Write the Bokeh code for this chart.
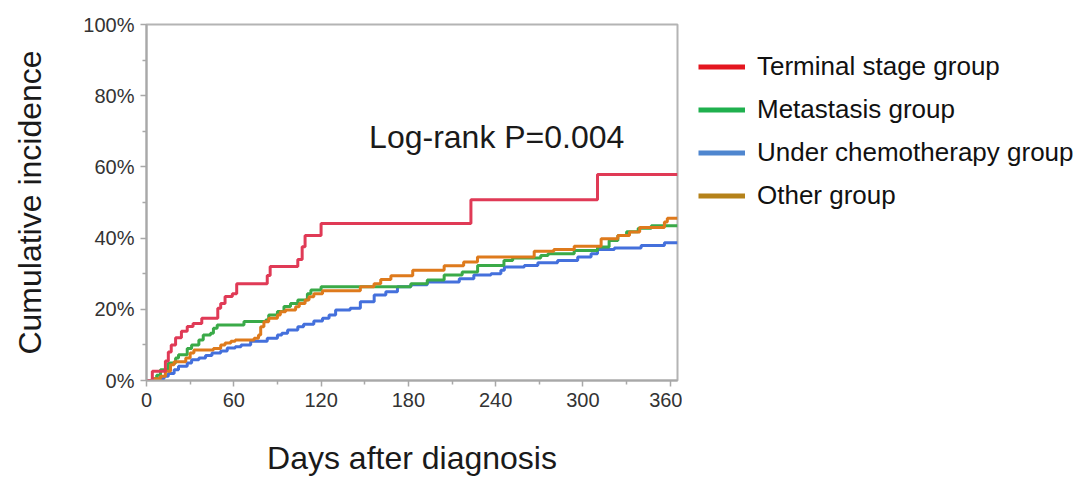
from bokeh.plotting import figure
from bokeh.layouts import row
from bokeh.models import Range1d, Label, Legend, LegendItem, PrintfTickFormatter, FixedTicker
from bokeh.embed import file_html
from bokeh.resources import INLINE

# ---- data ----
red_days = [0, 4, 13, 15, 17, 20, 24, 28, 32, 38, 49, 51, 54, 59, 62, 83, 85, 104, 107, 109, 120, 223, 310, 365]
red_pct = [0, 2.6, 5.5, 8, 10, 12, 13.8, 15.2, 16, 17.5, 20.3, 21.6, 23.6, 24.4, 27.2, 29.5, 32, 34, 37.6, 40.7, 44.1, 50.8, 57.9, 57.9]

green_days = [0, 4, 7, 9.6, 15, 20, 22, 28, 31, 36, 39, 44, 46, 48.6, 67, 82, 84, 90, 94.5, 99, 104, 110.6, 113, 120,
              181.7, 193, 204.6, 217, 227.6, 245.7, 251.7, 271, 276, 294, 310, 318, 324, 330, 338, 347, 365]
green_pct = [0, 0.5, 1.5, 3, 4.9, 6.3, 7.2, 9, 10, 11.4, 12.8, 13.3, 14.7, 15.6, 16.6, 17, 18.4, 19.4, 20.8, 21.6, 22.6, 24.4, 25.4, 26.3,
             27.2, 28.2, 29.6, 30.5, 32.3, 33.7, 34.4, 35.1, 35.6, 36.5, 37.5, 39.3, 40.7, 41.8, 42.8, 43.5, 43.5]

blue_days = [0, 6, 12, 15, 19, 22, 28, 31, 36, 40.6, 45, 51, 55.5, 61, 65, 71.6, 83, 90, 93, 97, 104, 108, 115, 121, 125.5, 130, 140,
             147, 156.5, 164.5, 172.5, 181.7, 193, 215, 225, 236.8, 243.6, 246, 259.7, 269, 282.6, 296.4, 305.6, 310, 321.6, 340, 356, 365]
blue_pct = [0, 0.5, 1.2, 2, 3, 4, 4.9, 5.8, 6.3, 7, 7.7, 8.3, 9.1, 9.5, 10, 11, 11.9, 12.8, 13.3, 14.2, 15.1, 15.8, 16.7, 17.5, 18.4, 19.8, 20.3,
            22.1, 24, 24.9, 26.3, 26.9, 27.7, 28.6, 29.6, 30, 31, 31.9, 32.3, 33.1, 33.7, 34.7, 35.6, 36.8, 37.2, 37.9, 38.7, 38.7]

orange_days = [0, 4, 9.6, 13, 16.5, 19, 27, 30, 32.6, 46, 51, 54, 58, 61, 74, 77, 78.5, 80.7, 84, 90, 92, 95.6, 102.5, 105, 109, 111.7, 115, 121,
               147, 156.4, 161, 168, 183, 204.6, 218, 227.5, 266.5, 280, 294, 312.5, 324, 332, 339, 356, 358, 365]
orange_pct = [0, 0.5, 1.2, 2.6, 4.4, 5.3, 6.3, 7.7, 8.6, 9, 10, 10.5, 11, 11.4, 11.9, 12.8, 15.1, 16.5, 17.5, 18.4, 19.3, 19.8, 20.7, 21.6, 22.6, 23.5, 24.4, 25.2,
              26.3, 27.2, 28.4, 29.4, 31, 32.2, 33.3, 34.7, 36.3, 36.8, 37.7, 39.8, 40.7, 41.7, 43, 44.5, 45.6, 45.6]

group_names = ["Terminal stage group", "Metastasis group", "Under chemotherapy group", "Other group"]
x_ticks = [0, 60, 120, 180, 240, 300, 360]
y_ticks = [0, 20, 40, 60, 80, 100]
annotation = "Log-rank P=0.004"

FONT = "Liberation Sans"

p = figure(width=682, height=478, output_backend="svg", toolbar_location=None,
           x_range=Range1d(0, 365), y_range=Range1d(0, 100),
           min_border_left=146, min_border_right=5, min_border_top=24, min_border_bottom=96)
p.grid.visible = False
p.outline_line_color = "#b4b4b4"
p.outline_line_width = 2
p.background_fill_color = "white"
p.border_fill_color = "white"

# curves
p.step(blue_days, blue_pct, mode="after", line_color="#4470dc", line_width=3)
p.step(green_days, green_pct, mode="after", line_color="#3aaa48", line_width=3)
p.step(orange_days, orange_pct, mode="after", line_color="#de7a1c", line_width=3)
p.step(red_days, red_pct, mode="after", line_color="#e03a56", line_width=3)

# axes
for ax in (p.xaxis[0], p.yaxis[0]):
    ax.axis_line_color = "#a8a8a8"
    ax.axis_line_width = 2
    ax.major_tick_line_color = "#a8a8a8"
    ax.minor_tick_line_color = "#a8a8a8"
    ax.major_tick_line_width = 1.5
    ax.minor_tick_line_width = 1.5
    ax.major_tick_out = 6
    ax.major_tick_in = 0
    ax.minor_tick_out = 4
    ax.minor_tick_in = 0
    ax.major_label_text_font = FONT
    ax.major_label_text_font_size = "20px"
    ax.major_label_text_color = "#333333"
    ax.axis_label_text_font = FONT
    ax.axis_label_text_font_size = "32px"
    ax.axis_label_text_font_style = "normal"
    ax.axis_label_text_color = "#1a1a1a"
    ax.major_label_standoff = 6

p.xaxis.ticker = FixedTicker(ticks=x_ticks, minor_ticks=[30, 90, 150, 210, 270, 330])
p.yaxis.ticker = FixedTicker(ticks=y_ticks, minor_ticks=[10, 30, 50, 70, 90])
p.yaxis.formatter = PrintfTickFormatter(format="%d%%")
p.xaxis.axis_label = "Days after diagnosis"
p.yaxis.axis_label = "Cumulative incidence"
p.xaxis.axis_label_standoff = 30
p.yaxis.axis_label_standoff = 32

p.add_layout(Label(x=153, y=68.3, text=annotation, text_font=FONT, text_font_size="32px",
                   text_color="#1a1a1a", text_align="left", text_baseline="middle"))

# legend panel (separate blank figure to the right)
lp = figure(width=400, height=478, output_backend="svg", toolbar_location=None,
            x_range=Range1d(0, 1), y_range=Range1d(0, 1),
            min_border_left=0, min_border_right=0, min_border_top=0, min_border_bottom=0)
lp.axis.visible = False
lp.grid.visible = False
lp.outline_line_color = None
lp.background_fill_color = "white"
lp.border_fill_color = "white"

leg_colors = ["#e4161f", "#1fb04e", "#4f86cf", "#b5821a"]
items = []
for name, c in zip(group_names, leg_colors):
    # proxy glyph kept outside the visible range: only its legend swatch is seen
    r = lp.line([5, 6], [5, 5], line_color=c, line_width=5)
    items.append(LegendItem(label=name, renderers=[r]))
legend = Legend(items=items, location=(16, 163), padding=0, margin=0, spacing=0,
                glyph_width=47, glyph_height=43, label_height=43, label_standoff=12,
                label_text_font=FONT, label_text_font_size="26px", label_text_color="#111111",
                border_line_color=None, background_fill_alpha=0)
lp.add_layout(legend, "center")

layout = row(p, lp)
open("out.html", "w").write(file_html(layout, INLINE))
